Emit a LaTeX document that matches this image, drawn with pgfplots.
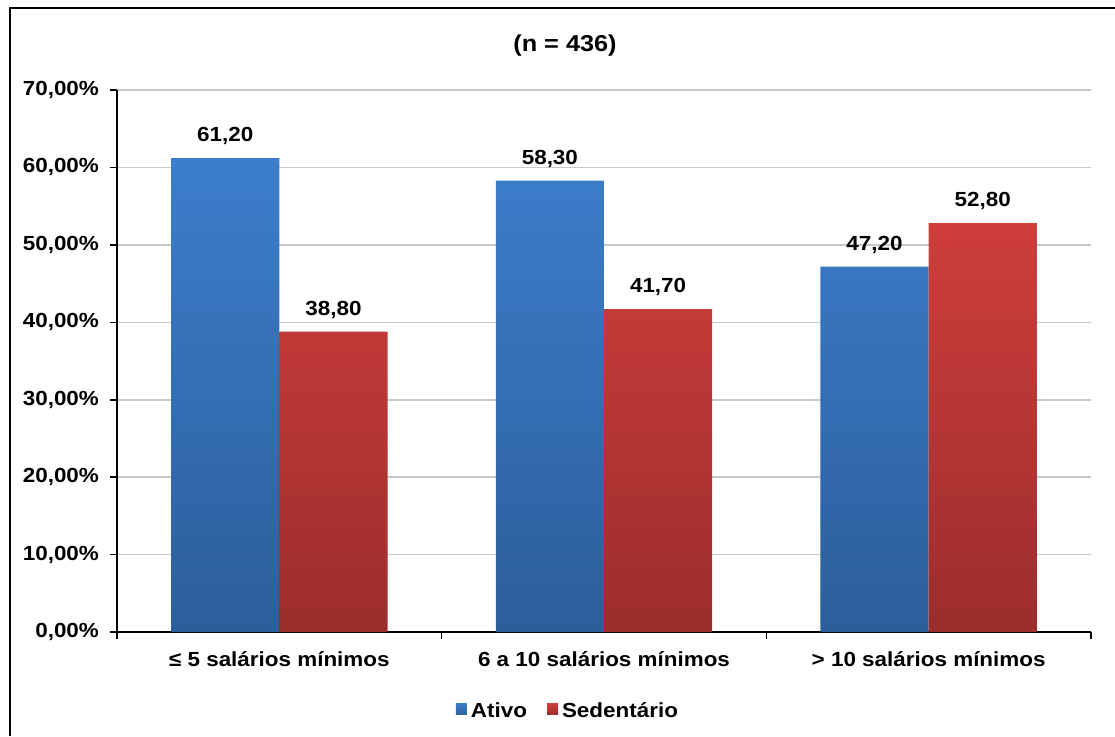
\documentclass[border=0pt]{standalone}
\usepackage{fontspec}
\setmainfont{Liberation Sans}[FakeStretch=1.1]
\usepackage{pgfplots}
\pgfplotsset{compat=1.18}

\definecolor{bluetop}{RGB}{60,126,204}
\definecolor{bluebot}{RGB}{44,94,154}
\definecolor{redtop}{RGB}{206,62,59}
\definecolor{redbot}{RGB}{155,45,44}
\definecolor{gridgray}{RGB}{200,200,200}

\newcommand{\chartfont}{\bfseries\fontsize{10.2}{12}\selectfont}

\pgfplotsset{
  sqlegend/.style={legend image code/.code={\fill[##1] (0pt,-1.5pt) rectangle (5.5pt,4pt);}},
}

\begin{document}
\begin{tikzpicture}
\path[use as bounding box] (0,0) rectangle (557.5pt,-368pt);
\draw[line width=1pt] (4.75pt,-368pt) -- (4.75pt,-3.75pt) -- (557.5pt,-3.75pt);
\node[font=\bfseries\fontsize{11.5}{13}\selectfont] at (282.5pt,-23pt) {(n = 436)};
\begin{axis}[
  at={(58.5pt,-316pt)}, anchor=south west,
  scale only axis, width=487pt, height=271pt,
  xmin=-0.5, xmax=2.5, ymin=0, ymax=70,
  axis x line*=bottom, axis y line*=left,
  axis line style={-, line width=1pt, black},
  tick align=outside,
  major tick length=3.5pt,
  tick style={black, line width=0.8pt},
  ytick={0,10,...,70},
  yticklabel={\pgfmathprintnumber[fixed,fixed zerofill,precision=2,use comma,assume math mode=true]{\tick}\%},
  ymajorgrids,
  grid style={gridgray, line width=0.8pt},
  xtick={-0.5,0.5,1.5,2.5},
  xticklabels={},
  extra x ticks={0,1,2},
  extra x tick labels={{≤ 5 salários mínimos},{6 a 10 salários mínimos},{> 10 salários mínimos}},
  extra x tick style={major tick length=0pt, grid=none},
  ticklabel style={font=\chartfont},
  xticklabel style={yshift=-6pt},
  yticklabel style={xshift=-2pt},
  legend style={at={(0.464,-0.147)}, anchor=center, draw=none, fill=none,
    legend columns=2, font=\chartfont,
    /tikz/every even column/.append style={column sep=8pt}},
  nodes near coords={\pgfmathprintnumber[fixed,fixed zerofill,precision=2,use comma,assume math mode=true]{\pgfplotspointmeta}},
  every node near coord/.append style={font=\chartfont, text=black, yshift=3pt},
  clip=false,
]
% each category spans 487pt/3; half a bar is a sixth of that
\addplot[ybar, sqlegend, bar width=0.3333, bar shift=-0.16667, draw=none,
  top color=bluetop, bottom color=bluebot,
  every node near coord/.append style={xshift=-27.06pt}]
  coordinates {(0,61.2) (1,58.3) (2,47.2)};
\addlegendentry{Ativo}
\addplot[ybar, sqlegend, bar width=0.3333, bar shift=0.16667, draw=none,
  top color=redtop, bottom color=redbot,
  every node near coord/.append style={xshift=27.06pt}]
  coordinates {(0,38.8) (1,41.7) (2,52.8)};
\addlegendentry{Sedentário}
\end{axis}
\end{tikzpicture}
\end{document}
